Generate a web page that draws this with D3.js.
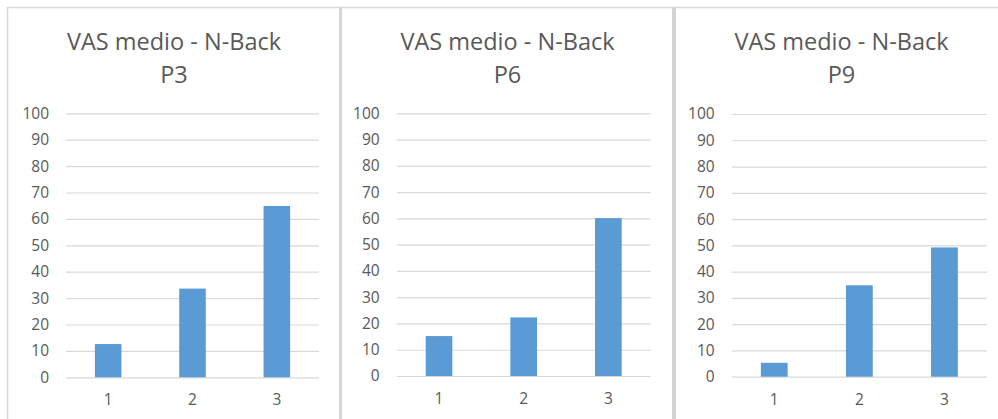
<!DOCTYPE html>
<html>
<head>
<meta charset="utf-8">
<script src="https://cdn.jsdelivr.net/npm/d3@7"></script>
<style>
  html, body { margin: 0; padding: 0; background: #ffffff; }
  svg { display: block; }
</style>
</head>
<body>
<svg id="chart" width="998" height="419"></svg>
<script>
// Mean VAS score per N-Back level, one small chart per participant
const categories = ["1", "2", "3"];
const titleLine1 = "VAS medio - N-Back";
const participants = ["P3", "P6", "P9"];
const valuesP3 = [12.6, 33.6, 64.9];
const valuesP6 = [15.2, 22.3, 60.1];
const valuesP9 = [5.3, 34.8, 49.2];
const yTicks = [0, 10, 20, 30, 40, 50, 60, 70, 80, 90, 100];

const seriesValues = [valuesP3, valuesP6, valuesP9];

// Panel geometry (plot area of each small chart)
const panels = [
  { left: 66,    right: 319, top: 113.3, bottom: 377.3, titleX: 174 },
  { left: 396.7, right: 650.7, top: 113.3, bottom: 376, titleX: 507.5 },
  { left: 731.7, right: 987, top: 114, bottom: 376.7, titleX: 841.5 }
];

const svg = d3.select("#chart");
const FONT = "'Open Sans', 'Noto Sans', sans-serif";
const TEXT = "#595959";
const GRID = "#d9d9d9";
const BAR = "#5b9bd5";
const FRAME = "#d9d9d9";

// Chart frames: top edge, outer left edge and the separators between charts
const frame = svg.append("g");
frame.append("line").attr("x1", 7).attr("x2", 998).attr("y1", 7.5).attr("y2", 7.5)
  .attr("stroke", FRAME).attr("stroke-width", 1.5);
frame.append("line").attr("x1", 7.5).attr("x2", 7.5).attr("y1", 7).attr("y2", 419)
  .attr("stroke", FRAME).attr("stroke-width", 1.5);
frame.append("rect").attr("x", 339).attr("y", 7).attr("width", 3).attr("height", 412)
  .attr("fill", "#d6d6d6");
frame.append("rect").attr("x", 672).attr("y", 7).attr("width", 4).attr("height", 412)
  .attr("fill", "#d3d3d3");

panels.forEach((p, i) => {
  const vals = seriesValues[i];
  const g = svg.append("g");

  const x = d3.scaleBand()
    .domain(categories)
    .range([p.left, p.right])
    .paddingInner(0.685)
    .paddingOuter(0.3425);

  const y = d3.scaleLinear()
    .domain([0, 100])
    .range([p.bottom, p.top]);

  // Horizontal gridlines
  g.append("g")
    .attr("transform", `translate(${p.left},0)`)
    .call(d3.axisLeft(y).tickValues(yTicks).tickSize(-(p.right - p.left)).tickFormat(""))
    .call(a => a.select(".domain").remove())
    .call(a => a.selectAll(".tick line").attr("stroke", GRID).attr("stroke-width", 1.2));

  // Y-axis labels
  g.append("g")
    .attr("transform", `translate(${p.left - 17},0)`)
    .call(d3.axisLeft(y).tickValues(yTicks).tickSize(0).tickPadding(0))
    .call(a => a.select(".domain").remove())
    .call(a => a.selectAll(".tick text")
      .attr("fill", TEXT).style("font-family", FONT).style("font-size", "15.5px"));

  // Bars
  g.selectAll("rect.bar")
    .data(vals)
    .join("rect")
    .attr("class", "bar")
    .attr("x", (d, j) => x(categories[j]))
    .attr("width", x.bandwidth())
    .attr("y", d => y(d))
    .attr("height", d => y(0) - y(d))
    .attr("fill", BAR);

  // X-axis labels
  g.append("g")
    .attr("transform", `translate(0,${p.bottom + 17})`)
    .call(d3.axisBottom(x).tickSize(0).tickPadding(0))
    .call(a => a.select(".domain").remove())
    .call(a => a.selectAll(".tick text")
      .attr("dy", "0.71em")
      .attr("fill", TEXT).style("font-family", FONT).style("font-size", "15.5px"));

  // Two-line title
  const title = g.append("text")
    .attr("text-anchor", "middle")
    .attr("fill", TEXT)
    .style("font-family", FONT)
    .style("font-size", "23.5px");
  title.append("tspan").attr("x", p.titleX).attr("y", 49.5).text(titleLine1);
  title.append("tspan").attr("x", p.titleX).attr("y", 83).text(participants[i]);
});
</script>
</body>
</html>
